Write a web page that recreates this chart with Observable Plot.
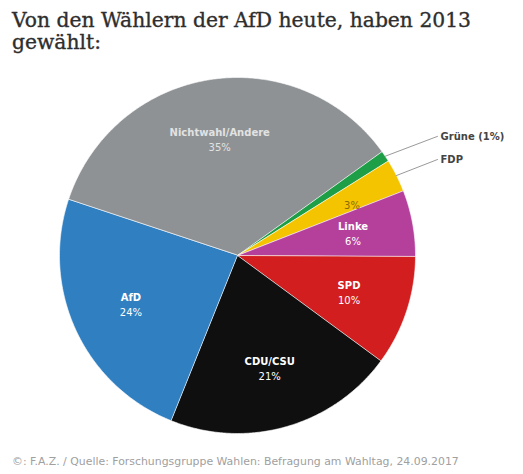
<!DOCTYPE html>
<html>
<head>
<meta charset="utf-8">
<script src="https://cdn.jsdelivr.net/npm/d3@7"></script>
<script src="https://cdn.jsdelivr.net/npm/@observablehq/plot@0.6"></script>
<style>
  html, body { margin: 0; padding: 0; background: #fff; width: 523px; height: 474px; overflow: hidden; }
  #title { position: absolute; left: 12px; top: 9px; width: 505px; font-family: "DejaVu Serif", serif; font-size: 20.3px; line-height: 22px; color: #2e2e2e; -webkit-text-stroke: 0.35px #2e2e2e; }
  #chart { position: absolute; left: 0; top: 70px; }
  #caption { position: absolute; left: 12px; top: 455px; font-family: "DejaVu Sans", sans-serif; font-size: 10.9px; color: #a0a0a0; }
</style>
</head>
<body>
<div id="title">Von den Wählern der AfD heute, haben 2013 gewählt:</div>
<div id="chart"></div>
<div id="caption">©: F.A.Z. / Quelle: Forschungsgruppe Wahlen: Befragung am Wahltag, 24.09.2017</div>
<script>
const categories = ["Nichtwahl/Andere", "Grüne", "FDP", "Linke", "SPD", "CDU/CSU", "AfD"];
const shares = [35, 1, 3, 6, 10, 21, 24];
const sliceColors = ["#8e9295", "#1f9e48", "#f4c400", "#b5409c", "#d21e1e", "#0f0f0f", "#2f7fc1"];
const insideNames = ["Nichtwahl/Andere", "", "", "Linke", "SPD", "CDU/CSU", "AfD"];
const insidePct = ["35%", "", "3%", "6%", "10%", "21%", "24%"];
const insideColors = ["#e2e2e2", "#ffffff", "#8a6a00", "#ffffff", "#ffffff", "#ffffff", "#ffffff"];
const outsideNames = ["", "Grüne (1%)", "FDP", "", "", "", ""];

const W = 523, H = 378;
const R = 178;
const cx = 237, cy = 185; // centre inside svg
const startDeg = -71.7;

const pie = d3.pie().sort(null).value(d => d)
  .startAngle(startDeg * Math.PI / 180)
  .endAngle(startDeg * Math.PI / 180 + 2 * Math.PI)(shares);

const polys = [];
const labels = [];
const leaders = [];
pie.forEach((p, i) => {
  const n = Math.max(4, Math.ceil((p.endAngle - p.startAngle) / (Math.PI / 360)));
  polys.push({k: i, x: 0, y: 0, color: sliceColors[i]});
  for (let j = 0; j <= n; j++) {
    const a = p.startAngle + (p.endAngle - p.startAngle) * j / n;
    polys.push({k: i, x: R * Math.sin(a), y: R * Math.cos(a), color: sliceColors[i]});
  }
  const mid = (p.startAngle + p.endAngle) / 2;
  const f = i === 2 ? 0.72 : 0.66;
  labels.push({x: f * R * Math.sin(mid), y: f * R * Math.cos(mid), name: insideNames[i], pct: insidePct[i], color: insideColors[i]});
  if (outsideNames[i]) {
    const ex = R * Math.sin(mid), ey = R * Math.cos(mid);
    leaders.push({k: i, x: ex, y: ey});
    leaders.push({k: i, x: 200, y: ey * 1.2});
    labels.push({x: 203, y: ey * 1.2, outside: outsideNames[i]});
  }
});

const plot = Plot.plot({
  width: W, height: H, margin: 0,
  x: {domain: [-cx, W - cx], axis: null},
  y: {domain: [-(H - cy), cy], axis: null},
  color: {type: "identity"},
  marks: [
    Plot.line(polys, {x: "x", y: "y", z: "k", fill: "color", stroke: "white", strokeWidth: 0.6, curve: "linear-closed"}),
    Plot.line(leaders, {x: "x", y: "y", z: "k", stroke: "#9a9a9a", strokeWidth: 1}),
    Plot.text(labels.filter(d => d.name), {x: "x", y: "y", text: "name", fill: "color", dy: -7, fontWeight: "bold", fontSize: 10, fontFamily: "DejaVu Sans"}),
    Plot.text(labels.filter(d => d.pct), {x: "x", y: "y", text: "pct", fill: "color", dy: 8, fontSize: 10, fontFamily: "DejaVu Sans"}),
    Plot.text(labels.filter(d => d.outside), {x: "x", y: "y", text: "outside", fill: "#444", textAnchor: "start", fontWeight: "bold", fontSize: 10, fontFamily: "DejaVu Sans"})
  ]
});
document.getElementById("chart").appendChild(plot);
</script>
</body>
</html>
